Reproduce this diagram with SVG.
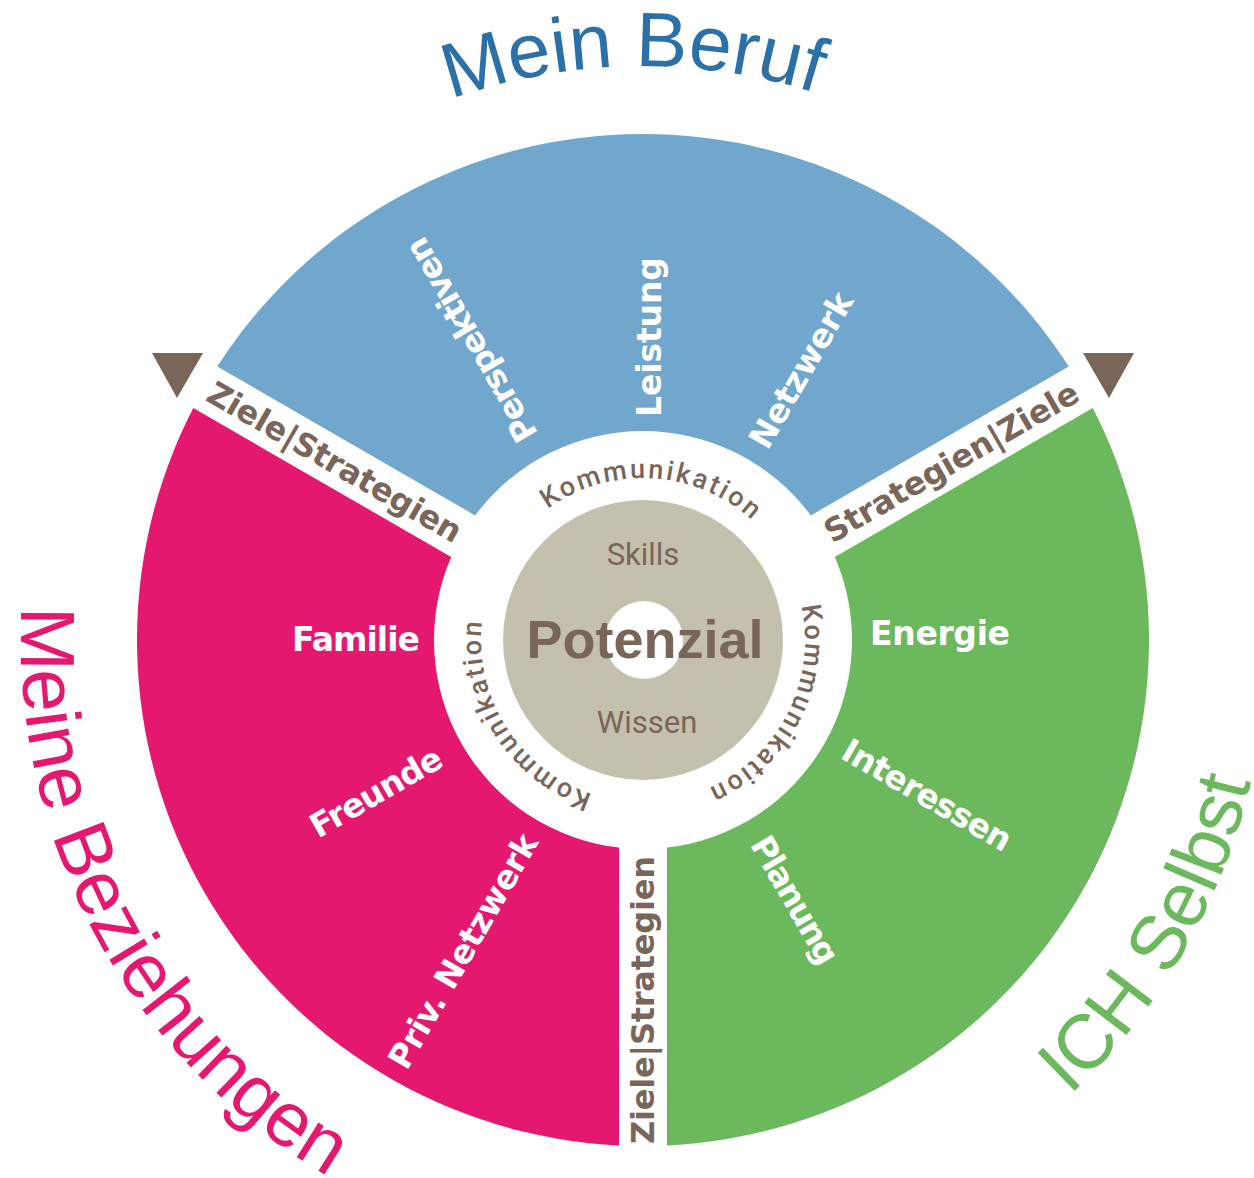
<svg xmlns="http://www.w3.org/2000/svg" width="1254" height="1178" viewBox="0 0 1254 1178">
<style>
.lbl{font-family:"DejaVu Sans","Liberation Sans",sans-serif;font-weight:bold;font-size:33px;fill:#ffffff;text-anchor:middle}
.band{font-family:"DejaVu Sans","Liberation Sans",sans-serif;font-weight:bold;font-size:32px;fill:#7a6659;text-anchor:middle}
.kom{font-family:Roboto,"Liberation Sans",Arial,sans-serif;font-weight:500;font-size:27px;fill:#7a6659;letter-spacing:2.5px;text-anchor:middle}
.title{font-family:"Liberation Sans",Arial,sans-serif;font-size:77px;text-anchor:middle}
.core{font-family:Roboto,"Liberation Sans",Arial,sans-serif;fill:#7a6659;text-anchor:middle}
.arrow{fill:#7a6659}
</style>
<defs>
<path id="pKomTop" d="M481.30,630.11 A162,162 0 0 1 804.70,649.89"/>
<path id="pKomLeft" d="M729.57,776.94 A162,162 0 0 1 556.43,503.06"/>
<path id="pKomRight" d="M717.30,496.04 A162,162 0 0 1 568.70,783.96"/>
<path id="pBeruf" d="M69.25,657.03 A574,574 0 0 1 1216.75,622.97"/>
<path id="pBez" d="M348.12,92.34 A622,622 0 0 0 937.88,1187.66"/>
<path id="pIch" d="M331,1180.4 A624,624 0 0 0 955,99.6"/>
</defs>
<rect width="1254" height="1178" fill="#ffffff"/>

<g id="beruf">
<path d="M217.28,366.50 A506,506 0 0 1 1068.72,366.50 L810.81,515.41 A209,209 0 0 0 475.19,515.41 Z" fill="#71a6cd"/>
<text class="lbl" transform="translate(471,340) rotate(-120)" dy=".35em" textLength="230" lengthAdjust="spacing">Perspektiven</text>
<text class="lbl" transform="translate(649,337) rotate(-90)" dy=".35em" textLength="160" lengthAdjust="spacing">Leistung</text>
<text class="lbl" transform="translate(801,370) rotate(-60)" dy=".35em" textLength="174" lengthAdjust="spacing">Netzwerk</text>
<text class="title" fill="#2b70a6"><textPath href="#pBeruf" startOffset="50.4%">Mein Beruf</textPath></text>
</g>

<g id="beziehungen">
<path d="M619,1145.43 A506,506 0 0 1 193.28,408.07 L451.19,556.98 A209,209 0 0 0 619,847.62 Z" fill="#e5186f"/>
<text class="lbl" transform="translate(356,639.5)" dy=".35em" textLength="128" lengthAdjust="spacing">Familie</text>
<text class="lbl" transform="translate(376,792) rotate(-30)" dy=".35em" textLength="147" lengthAdjust="spacing">Freunde</text>
<text class="lbl" transform="translate(463,951) rotate(-60)" dy=".35em" textLength="265" lengthAdjust="spacing">Priv. Netzwerk</text>
<text class="title" fill="#e5186f"><textPath href="#pBez" startOffset="50%">Meine Beziehungen</textPath></text>
</g>

<g id="ich">
<path d="M1092.72,408.07 A506,506 0 0 1 667,1145.43 L667,847.62 A209,209 0 0 0 834.81,556.98 Z" fill="#6cb85c"/>
<text class="lbl" transform="translate(940,633.5)" dy=".35em" textLength="140" lengthAdjust="spacing">Energie</text>
<text class="lbl" transform="translate(927,795) rotate(30)" dy=".35em" textLength="190" lengthAdjust="spacing">Interessen</text>
<text class="lbl" transform="translate(795,900) rotate(60)" dy=".35em" textLength="142" lengthAdjust="spacing">Planung</text>
<text class="title" fill="#6cb85c"><textPath href="#pIch" startOffset="50%">ICH Selbst</textPath></text>
</g>

<g id="kommunikation">
<text class="kom"><textPath href="#pKomTop" startOffset="50%">Kommunikation</textPath></text>
<text class="kom"><textPath href="#pKomLeft" startOffset="50%">Kommunikation</textPath></text>
<text class="kom"><textPath href="#pKomRight" startOffset="50%">Kommunikation</textPath></text>
</g>

<g id="potenzial">
<circle cx="643" cy="640" r="140" fill="#c4c0ae"/>
<circle cx="644" cy="640" r="39" fill="#ffffff"/>
<text class="core" x="643" y="565" font-size="31">Skills</text>
<text class="core" x="645" y="658" font-size="54" font-weight="bold" style="font-family:'Liberation Sans',Arial,sans-serif">Potenzial</text>
<text class="core" x="647" y="733" font-size="31">Wissen</text>
</g>

<g id="ziele-strategien">
<text class="band" transform="translate(334.7,462) rotate(30)" dy=".35em" textLength="288" lengthAdjust="spacing">Ziele|Strategien</text>
<text class="band" transform="translate(951.3,462) rotate(-30)" dy=".35em" textLength="288" lengthAdjust="spacing">Strategien|Ziele</text>
<text class="band" transform="translate(643,1000) rotate(-90)" dy=".35em" textLength="288" lengthAdjust="spacing">Ziele|Strategien</text>
</g>

<g id="connectors">
<polygon class="arrow" points="152,353 203,353 177,398"/>
<polygon class="arrow" points="1083,353 1134,353 1109,398"/>
</g>
</svg>
